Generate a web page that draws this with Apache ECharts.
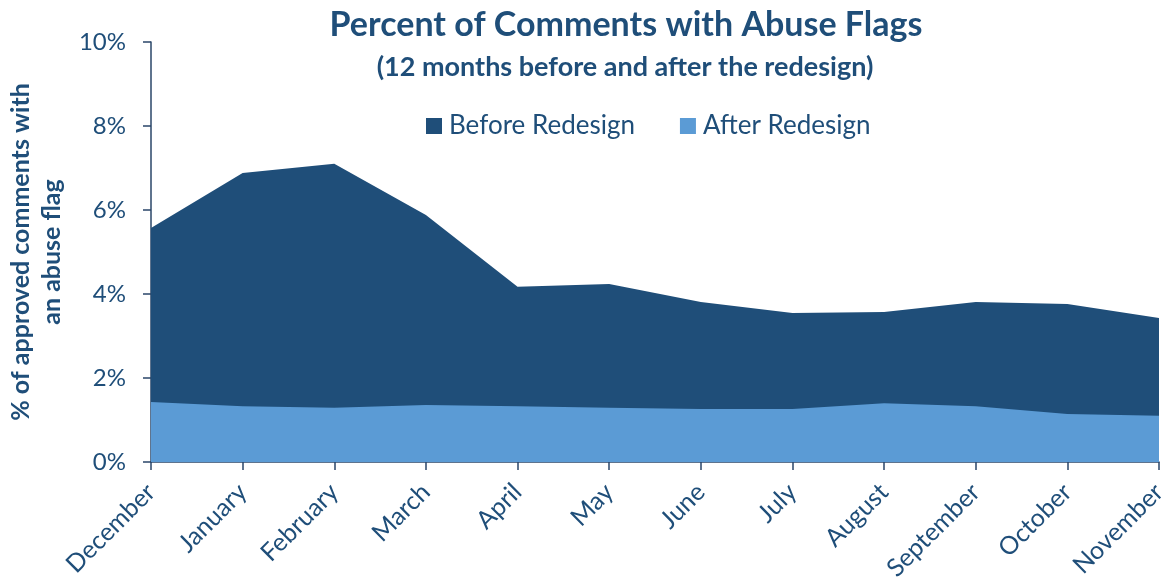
<!DOCTYPE html>
<html>
<head>
<meta charset="utf-8">
<script src="https://cdn.jsdelivr.net/npm/echarts@6/dist/echarts.min.js"></script>
<style>
  html, body { margin: 0; padding: 0; background: #fff; }
  #chart { width: 1166px; height: 581px; }
</style>
</head>
<body>
<div id="chart"></div>
<script>
// Months covered (12 months before / after the redesign)
const months = ['December', 'January', 'February', 'March', 'April', 'May',
  'June', 'July', 'August', 'September', 'October', 'November'];

// Share of approved comments carrying an abuse flag, in percent
const beforeRedesign = [5.57, 6.88, 7.10, 5.88, 4.17, 4.24, 3.81, 3.55, 3.57, 3.81, 3.76, 3.43];
const afterRedesign = [1.43, 1.33, 1.29, 1.36, 1.33, 1.29, 1.26, 1.26, 1.40, 1.33, 1.14, 1.10];

const DARK = '#1F4E79';
const LIGHT = '#5B9BD5';
const TEXT = '#1F4E79';
const AXIS = '#2A4669';
const FONT = 'Lato';

const chart = echarts.init(document.getElementById('chart'), null, { renderer: 'canvas' });

chart.setOption({
  backgroundColor: '#ffffff',
  animation: false,
  textStyle: { fontFamily: FONT, color: TEXT },
  title: [
    {
      text: 'Percent of Comments with Abuse Flags',
      left: 626,
      top: 6,
      textAlign: 'center',
      padding: 0,
      textStyle: { fontFamily: FONT, fontSize: 34, fontWeight: 'bold', color: TEXT, lineHeight: 38 }
    },
    {
      text: '(12 months before and after the redesign)',
      left: 625,
      top: 52,
      textAlign: 'center',
      padding: 0,
      textStyle: { fontFamily: FONT, fontSize: 27, fontWeight: 'bold', color: TEXT, lineHeight: 30 }
    }
  ],
  legend: {
    top: 113,
    left: 426,
    padding: 0,
    itemWidth: 16,
    itemHeight: 16,
    itemGap: 45,
    icon: 'rect',
    textStyle: { fontFamily: FONT, fontSize: 26, color: TEXT, padding: [0, 0, 0, 2] },
    data: ['Before Redesign', 'After Redesign']
  },
  grid: { left: 151, right: 7, top: 42, bottom: 119, containLabel: false, outerBoundsMode: 'none' },
  xAxis: {
    type: 'category',
    data: months,
    boundaryGap: false,
    axisLine: { lineStyle: { color: AXIS, width: 1.5 } },
    axisTick: { show: true, length: 8, alignWithLabel: true, lineStyle: { color: AXIS, width: 1.5 } },
    axisLabel: { rotate: 45, fontFamily: FONT, fontSize: 25, color: TEXT, margin: 26, interval: 0 },
    splitLine: { show: false }
  },
  yAxis: {
    type: 'value',
    min: 0,
    max: 10,
    interval: 2,
    name: '% of approved comments with\nan abuse flag',
    nameLocation: 'middle',
    nameRotate: 90,
    nameGap: 84,
    nameTextStyle: { fontFamily: FONT, fontSize: 25, fontWeight: 'bold', color: TEXT, lineHeight: 31 },
    axisLine: { show: true, lineStyle: { color: AXIS, width: 1.5 } },
    axisTick: { show: true, length: 8, lineStyle: { color: AXIS, width: 1.5 } },
    axisLabel: { fontFamily: FONT, fontSize: 24, color: TEXT, margin: 25, formatter: '{value}%' },
    splitLine: { show: false }
  },
  series: [
    {
      name: 'Before Redesign',
      type: 'line',
      data: beforeRedesign,
      symbol: 'none',
      lineStyle: { width: 0 },
      itemStyle: { color: DARK },
      areaStyle: { color: DARK, opacity: 1 },
      z: 2
    },
    {
      name: 'After Redesign',
      type: 'line',
      data: afterRedesign,
      symbol: 'none',
      lineStyle: { width: 0 },
      itemStyle: { color: LIGHT },
      areaStyle: { color: LIGHT, opacity: 1 },
      z: 3
    }
  ]
});
</script>
</body>
</html>
